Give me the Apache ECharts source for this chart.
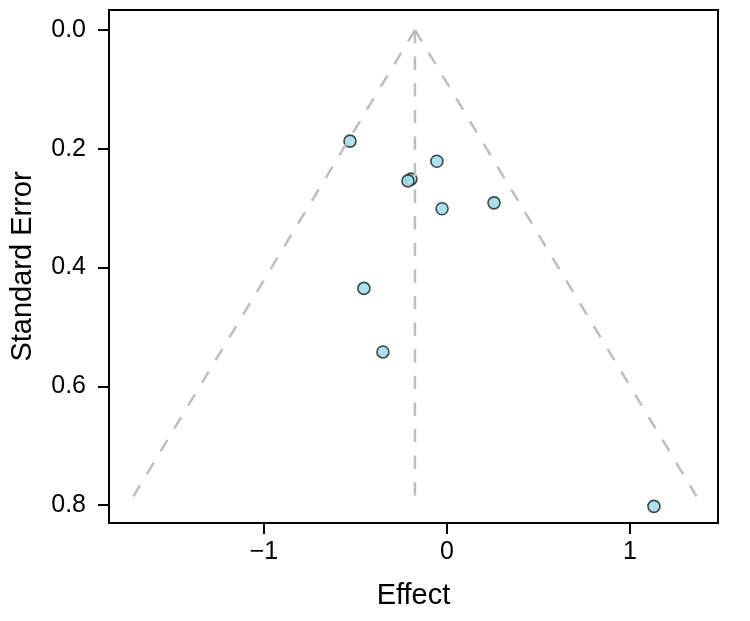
<!DOCTYPE html>
<html>
<head>
<meta charset="utf-8">
<script src="https://cdn.jsdelivr.net/npm/echarts@6/dist/echarts.min.js"></script>
<style>
  html, body { margin: 0; padding: 0; background: #fff; }
  #chart { width: 750px; height: 621px; }
</style>
</head>
<body>
<div id="chart"></div>
<script>
// study effects and their standard errors
var effects = [-0.530, -0.055, -0.197, -0.213, -0.027, 0.257, -0.454, -0.350, 1.131];
var stdErrors = [0.187, 0.221, 0.251, 0.254, 0.301, 0.291, 0.435, 0.542, 0.802];

// pooled estimate and funnel depth
var pooled = -0.175;
var funnelDepth = 0.785;

var xTicks = [-1, 0, 1];
var yTicks = [0, 0.2, 0.4, 0.6, 0.8];

var points = effects.map(function (e, i) { return [e, stdErrors[i]]; });
var leftEdge = [[pooled, 0], [pooled - 1.96 * funnelDepth, funnelDepth]];
var rightEdge = [[pooled, 0], [pooled + 1.96 * funnelDepth, funnelDepth]];
var centreLine = [[pooled, 0], [pooled, funnelDepth]];

var chart = echarts.init(document.getElementById('chart'), null, { renderer: 'canvas' });

var dashed = {
    color: '#bebebe',
    width: 2.5,
    type: [13.3, 13.3]
};

var option = {
    animation: false,
    textStyle: { fontFamily: 'Liberation Sans, Arial, sans-serif' },
    grid: {
        left: 109, right: 32, top: 10, bottom: 98,
        show: true,
        borderColor: '#000',
        borderWidth: 2,
        backgroundColor: 'transparent'
    },
    xAxis: {
        type: 'value',
        min: -1.847,
        max: 1.481,
        name: 'Effect',
        nameLocation: 'middle',
        nameGap: 58,
        nameTextStyle: { color: '#000', fontSize: 29 },
        axisLine: { show: false, onZero: false },
        splitLine: { show: false },
        axisTick: { show: true, customValues: xTicks, length: 11, lineStyle: { color: '#000', width: 2 } },
        axisLabel: {
            customValues: xTicks,
            color: '#000', fontSize: 25, margin: 17,
            formatter: function (v) { return String(v).replace('-', '\u2212'); }
        }
    },
    yAxis: {
        type: 'value',
        inverse: true,
        min: -0.0337,
        max: 0.83,
        name: 'Standard Error',
        nameLocation: 'middle',
        nameGap: 72,
        nameRotate: 90,
        nameTextStyle: { color: '#000', fontSize: 29 },
        axisLine: { show: false, onZero: false },
        splitLine: { show: false },
        axisTick: { show: true, customValues: yTicks, length: 11, lineStyle: { color: '#000', width: 2 } },
        axisLabel: {
            customValues: yTicks,
            color: '#000', fontSize: 25, margin: 23,
            formatter: function (v) { return v.toFixed(1); }
        }
    },
    series: [
        { type: 'line', data: leftEdge, symbol: 'none', lineStyle: dashed, silent: true },
        { type: 'line', data: rightEdge, symbol: 'none', lineStyle: dashed, silent: true },
        { type: 'line', data: centreLine, symbol: 'none', lineStyle: dashed, silent: true },
        {
            type: 'scatter',
            data: points,
            symbolSize: 12,
            itemStyle: { color: '#9fdfee', borderColor: '#333', borderWidth: 1.6, opacity: 0.9 }
        }
    ]
};

chart.setOption(option);
window.addEventListener('resize', chart.resize);
</script>
</body>
</html>
